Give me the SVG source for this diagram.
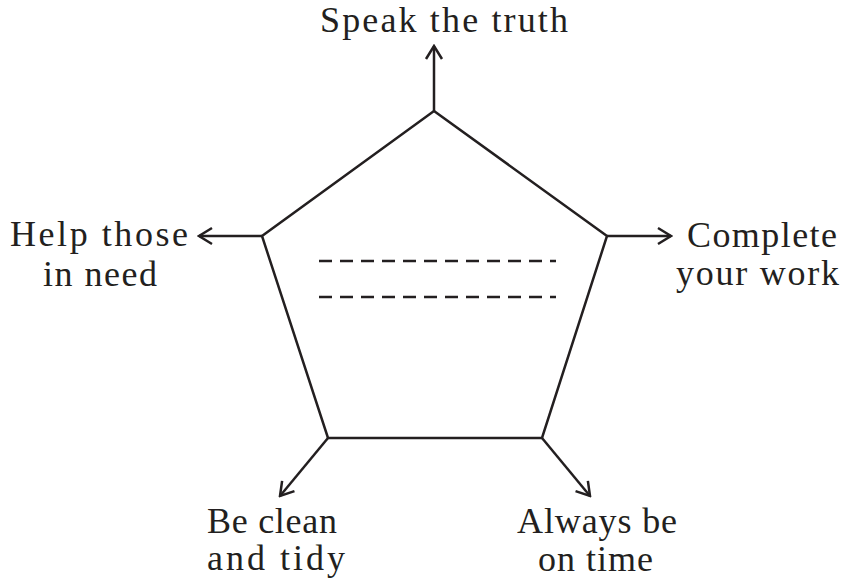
<svg xmlns="http://www.w3.org/2000/svg" width="844" height="582" viewBox="0 0 844 582">
<style>
.lbl{font-family:"Liberation Serif","Times New Roman",serif;font-size:36px;fill:#231f20}
.ln{stroke:#231f20;stroke-width:2.5;fill:none}
.dash{stroke:#231f20;stroke-width:2.6;stroke-dasharray:13 8;fill:none}
</style>
<defs>
<marker id="arr" markerUnits="userSpaceOnUse" viewBox="-15 -10 17 20" refX="0" refY="0" markerWidth="17" markerHeight="20" orient="auto">
<path d="M-13,-8 L0,0 L-13,8" fill="none" stroke="#231f20" stroke-width="2.5" stroke-linejoin="miter"/>
</marker>
</defs>
<rect width="844" height="582" fill="#fff"/>
<g id="pentagon">
<polygon class="ln" points="434,111 607,236 542,438 328,438 262,236"/>
<line class="dash" x1="319" y1="261" x2="556" y2="261"/>
<line class="dash" x1="319" y1="297" x2="556" y2="297"/>
</g>
<g id="connectors">
<line class="ln" x1="434" y1="111" x2="434" y2="46" marker-end="url(#arr)"/>
<line class="ln" x1="607" y1="236" x2="671" y2="236" marker-end="url(#arr)"/>
<line class="ln" x1="262" y1="236" x2="199" y2="236" marker-end="url(#arr)"/>
<line class="ln" x1="328" y1="438" x2="280" y2="496" marker-end="url(#arr)"/>
<line class="ln" x1="542" y1="438" x2="590" y2="496" marker-end="url(#arr)"/>
</g>
<g id="speak">
<text class="lbl" x="320" y="32" textLength="248" lengthAdjust="spacing">Speak the truth</text>
</g>
<g id="complete">
<text class="lbl" x="687" y="247" textLength="150" lengthAdjust="spacing">Complete</text>
<text class="lbl" x="676" y="285" textLength="163" lengthAdjust="spacing">your work</text>
</g>
<g id="help">
<text class="lbl" x="10" y="246" textLength="178" lengthAdjust="spacing">Help those</text>
<text class="lbl" x="43" y="286" textLength="114" lengthAdjust="spacing">in need</text>
</g>
<g id="clean">
<text class="lbl" x="207" y="533" textLength="130" lengthAdjust="spacing">Be clean</text>
<text class="lbl" x="207" y="570" textLength="138" lengthAdjust="spacing">and tidy</text>
</g>
<g id="time">
<text class="lbl" x="517" y="533" textLength="160" lengthAdjust="spacing">Always be</text>
<text class="lbl" x="538" y="571" textLength="115" lengthAdjust="spacing">on time</text>
</g>
</svg>
